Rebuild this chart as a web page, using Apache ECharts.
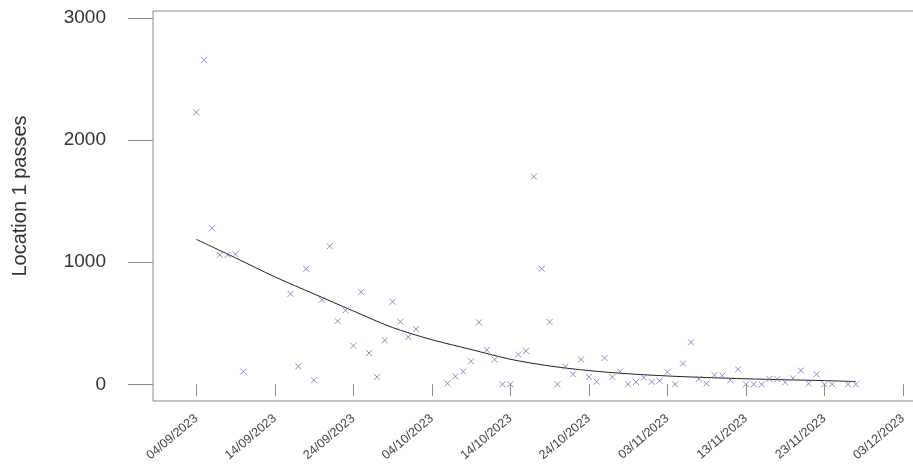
<!DOCTYPE html>
<html>
<head>
<meta charset="utf-8">
<script src="https://cdn.jsdelivr.net/npm/echarts@6/dist/echarts.min.js"></script>
<style>
  html, body { margin: 0; padding: 0; background: #fff; overflow: hidden; }
  #chart { width: 913px; height: 470px; }
</style>
</head>
<body>
<div id="chart"></div>
<script>
// Daily pass counts at location 1
const obsDates = [
  '2023-09-04','2023-09-05','2023-09-06','2023-09-07','2023-09-08','2023-09-09','2023-09-10',
  '2023-09-16','2023-09-17','2023-09-18','2023-09-19','2023-09-20','2023-09-21','2023-09-22',
  '2023-09-23','2023-09-24','2023-09-25','2023-09-26','2023-09-27','2023-09-28','2023-09-29',
  '2023-09-30','2023-10-01','2023-10-02',
  '2023-10-06','2023-10-07','2023-10-08','2023-10-09','2023-10-10','2023-10-11','2023-10-12',
  '2023-10-13','2023-10-14','2023-10-15','2023-10-16','2023-10-17','2023-10-18','2023-10-19',
  '2023-10-20','2023-10-21','2023-10-22','2023-10-23','2023-10-24','2023-10-25','2023-10-26',
  '2023-10-27','2023-10-28','2023-10-29','2023-10-30','2023-10-31','2023-11-01','2023-11-02',
  '2023-11-03','2023-11-04','2023-11-05','2023-11-06','2023-11-07','2023-11-08','2023-11-09',
  '2023-11-10','2023-11-11','2023-11-12','2023-11-13','2023-11-14','2023-11-15','2023-11-16',
  '2023-11-17','2023-11-18','2023-11-19','2023-11-20','2023-11-21','2023-11-22','2023-11-23',
  '2023-11-24','2023-11-26','2023-11-27'
];
const passes = [
  2227, 2655, 1278, 1060, 1060, 1065, 104,
  740, 147, 946, 33, 692, 1131, 518,
  605, 316, 755, 256, 60, 360, 676,
  512, 387, 452,
  6, 65, 104, 188, 507, 281, 202,
  0, 0, 243, 273, 1701, 946, 510,
  0, 144, 82, 204, 60, 22, 215,
  60, 104, 0, 19, 55, 20, 28,
  101, 0, 169, 343, 43, 6, 76,
  71, 33, 123, 0, 0, 0, 43,
  43, 16, 49, 112, 6, 82, 0,
  0, 0, 0
];

// Smoothed trend of the daily counts
const fitDates = [
  '2023-09-04','2023-09-09','2023-09-14','2023-09-19','2023-09-24','2023-09-29',
  '2023-10-04','2023-10-09','2023-10-14','2023-10-19','2023-10-24','2023-10-29',
  '2023-11-03','2023-11-08','2023-11-13','2023-11-18','2023-11-23','2023-11-27'
];
const fitValues = [
  1187, 1035, 880, 740, 600, 465,
  365, 285, 205, 150, 112, 86,
  68, 55, 45, 37, 30, 22
];

// Axis ticks
const tickDates = [
  '2023-09-04','2023-09-14','2023-09-24','2023-10-04','2023-10-14',
  '2023-10-24','2023-11-03','2023-11-13','2023-11-23','2023-12-03'
];
const yTicks = [0, 1000, 2000, 3000];

const DAY = 86400000;
function ts(s) {
  const [y, m, d] = s.split('-').map(Number);
  return Date.UTC(y, m - 1, d);
}
function fmt(t) {
  const d = new Date(t);
  const p = n => String(n).padStart(2, '0');
  return p(d.getUTCDate()) + '/' + p(d.getUTCMonth() + 1) + '/' + d.getUTCFullYear();
}

const xStart = ts('2023-09-04') - 5.51 * DAY;
const xEnd = xStart + 99.34 * DAY;
const tickTs = tickDates.map(ts);

const chart = echarts.init(document.getElementById('chart'), null, { renderer: 'canvas' });
chart.setOption({
  animation: false,
  backgroundColor: '#ffffff',
  textStyle: { fontFamily: 'Liberation Sans, Arial, sans-serif' },
  grid: {
    left: 153, top: 11, width: 780, height: 390,
    containLabel: false,
    outerBoundsMode: 'none',
    show: true, borderColor: '#8a8a8a', borderWidth: 1, backgroundColor: 'transparent'
  },
  xAxis: {
    type: 'value',
    min: xStart,
    max: xEnd,
    axisLine: { show: false },
    splitLine: { show: false },
    axisTick: {
      show: true, inside: false, length: 12,
      customValues: tickTs,
      lineStyle: { color: '#8a8a8a', width: 1 }
    },
    axisLabel: {
      customValues: tickTs,
      rotate: 40,
      margin: 16,
      fontSize: 12.5,
      color: '#444',
      hideOverlap: false,
      formatter: v => fmt(v)
    }
  },
  yAxis: {
    type: 'value',
    min: -137,
    max: 3057,
    name: 'Location 1 passes',
    nameLocation: 'middle',
    nameGap: 123,
    nameRotate: 90,
    nameTextStyle: { fontSize: 20, color: '#333', padding: [0, 0, 0, 20] },
    axisLine: { show: false },
    splitLine: { show: false },
    axisTick: {
      show: true, inside: false, length: 25,
      customValues: yTicks,
      lineStyle: { color: '#8a8a8a', width: 1 }
    },
    axisLabel: {
      customValues: yTicks,
      margin: 47,
      fontSize: 19,
      color: '#333',
      formatter: v => String(v)
    }
  },
  series: [
    {
      type: 'scatter',
      data: obsDates.map((d, i) => [ts(d), passes[i]]),
      symbol: 'path://M0,0L10,10M0,10L10,0',
      symbolSize: 6,
      itemStyle: { color: 'transparent', borderColor: '#7272c6', borderWidth: 1 },
      z: 3
    },
    {
      type: 'line',
      data: fitDates.map((d, i) => [ts(d), fitValues[i]]),
      smooth: 0.3,
      showSymbol: false,
      lineStyle: { color: '#222', width: 1 },
      z: 2
    }
  ]
});
</script>
</body>
</html>
